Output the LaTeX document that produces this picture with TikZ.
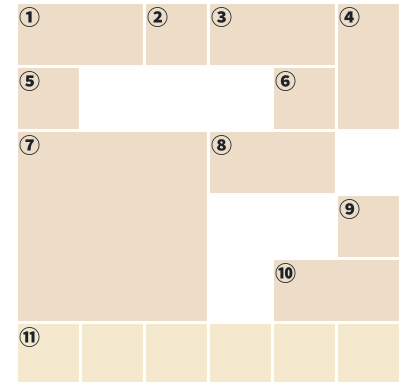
\documentclass[tikz,border=0pt]{standalone}
\usepackage{fontspec}
\usepackage{xcolor}
\newfontfamily\circfont{Noto Sans CJK SC}
\definecolor{cellfill}{HTML}{EDDDC8}
\definecolor{footfill}{HTML}{F4E9CE}
\definecolor{numink}{HTML}{1B2329}

\begin{document}
\begin{tikzpicture}[
    x=1pt, y=-1pt,
    cell/.style={fill=cellfill, anchor=north west, inner sep=0pt, outer sep=0pt},
    foot/.style={cell, fill=footfill, minimum width=61pt, minimum height=61pt},
    num/.style={anchor=north west, inner sep=0pt, text=numink, font=\circfont\bfseries\fontsize{21}{21}\selectfont, xshift=1.5pt, yshift=-3.5pt}
]
\useasboundingbox (0,0) rectangle (401,381);

% upper block
\node[cell, minimum width=125pt, minimum height=61pt] (c1) at (18,4) {};
\node[cell, minimum width=61pt, minimum height=61pt] (c2) at (146,4) {};
\node[cell, minimum width=125pt, minimum height=61pt] (c3) at (210,4) {};
\node[cell, minimum width=61pt, minimum height=125pt] (c4) at (338,4) {};
\node[cell, minimum width=61pt, minimum height=61pt] (c5) at (18,68) {};
\node[cell, minimum width=61pt, minimum height=61pt] (c6) at (274,68) {};
\node[cell, minimum width=189pt, minimum height=189pt] (c7) at (18,132) {};
\node[cell, minimum width=125pt, minimum height=61pt] (c8) at (210,132) {};
\node[cell, minimum width=61pt, minimum height=61pt] (c9) at (338,196) {};
\node[cell, minimum width=125pt, minimum height=61pt] (c10) at (274,260) {};

% bottom row
\foreach \i in {0,...,5}
    \node[foot] (f\i) at (18+64*\i,324) {};

% numbers
\node[num] (n1) at (c1.north west) {①};
\node[num] (n2) at (c2.north west) {②};
\node[num] (n3) at (c3.north west) {③};
\node[num] (n4) at (c4.north west) {④};
\node[num] (n5) at (c5.north west) {⑤};
\node[num] (n6) at (c6.north west) {⑥};
\node[num] (n7) at (c7.north west) {⑦};
\node[num] (n8) at (c8.north west) {⑧};
\node[num] (n9) at (c9.north west) {⑨};
\node[num] (n10) at (c10.north west) {⑩};
\node[num] (n11) at (f0.north west) {⑪};
\end{tikzpicture}
\end{document}
